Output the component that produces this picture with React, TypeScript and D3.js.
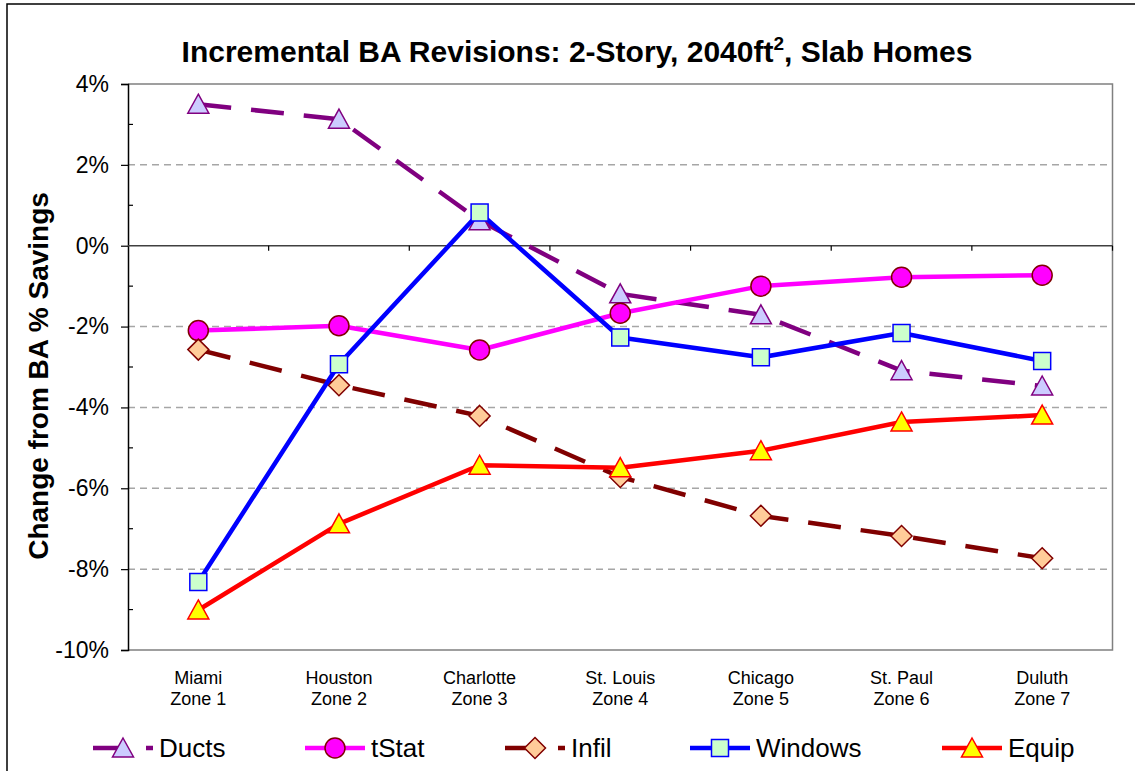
import React, {useEffect, useRef} from 'react';
import * as d3 from 'd3';

const cities = ['Miami', 'Houston', 'Charlotte', 'St. Louis', 'Chicago', 'St. Paul', 'Duluth'];
const zones = ['Zone 1', 'Zone 2', 'Zone 3', 'Zone 4', 'Zone 5', 'Zone 6', 'Zone 7'];

// % change from BA savings
const ducts = [3.50, 3.13, 0.62, -1.19, -1.71, -3.09, -3.47];
const tStat = [-2.10, -1.98, -2.58, -1.67, -1.00, -0.78, -0.73];
const infil = [-2.57, -3.45, -4.21, -5.72, -6.68, -7.18, -7.73];
const windows = [-8.32, -2.93, 0.82, -2.27, -2.76, -2.16, -2.85];
const equip = [-9.01, -6.88, -5.43, -5.49, -5.07, -4.36, -4.19];

const yTicks = [4, 2, 0, -2, -4, -6, -8, -10];

const FONT = "'Liberation Sans', Arial, sans-serif";

type Series = {name: string; values: number[]; line: string; fill: string; stroke: string; marker: string; dash: string | null};

const series: Series[] = [
  {name: 'Ducts', values: ducts, line: '#800080', fill: '#CCCCFF', stroke: '#800080', marker: 'triangle', dash: '33 20'},
  {name: 'tStat', values: tStat, line: '#FF00FF', fill: '#FF00FF', stroke: '#800000', marker: 'circle', dash: null},
  {name: 'Infil', values: infil, line: '#800000', fill: '#FFCC99', stroke: '#800000', marker: 'diamond', dash: '33 20'},
  {name: 'Windows', values: windows, line: '#0000FF', fill: '#CCFFCC', stroke: '#0000FF', marker: 'square', dash: null},
  {name: 'Equip', values: equip, line: '#FF0000', fill: '#FFFF00', stroke: '#FF0000', marker: 'triangle', dash: null},
];

// legend entry left edges
const legendX = [93, 305, 505, 690, 942];

const markerPath = (type: string) => {
  if (type === 'triangle') return 'M0,-10L10.5,9L-10.5,9Z';
  if (type === 'diamond') return 'M0,-10.5L10.5,0L0,10.5L-10.5,0Z';
  if (type === 'square') return 'M-8.5,-8.5H8.5V8.5H-8.5Z';
  return d3.symbol().type(d3.symbolCircle).size(Math.PI * 100)() as string;
};

const App = () => {
  const ref = useRef<SVGSVGElement>(null);
  const width = 1135;
  const height = 771;

  useEffect(() => {
    const svg = d3.select(ref.current);
    svg.selectAll('*').remove();

    const left = 128, right = 1112.5, top = 84, bottom = 650;

    const x = d3.scaleBand().domain(cities).range([left, right]).padding(0);
    const cx = (c: string) => (x(c) as number) + x.bandwidth() / 2;
    const y = d3.scaleLinear().domain([-10, 4]).range([bottom, top]);

    // outer chart border
    svg.append('rect')
      .attr('x', 7).attr('y', 4)
      .attr('width', width).attr('height', height)
      .attr('fill', 'white').attr('stroke', '#000').attr('stroke-width', 1.5);

    // title
    const title = svg.append('text')
      .attr('x', 577).attr('y', 62)
      .attr('text-anchor', 'middle')
      .style('font-family', FONT).style('font-weight', 'bold').style('font-size', '30px');
    title.append('tspan').text('Incremental BA Revisions: 2-Story, 2040ft');
    title.append('tspan').attr('dy', -12).style('font-size', '19px').text('2');
    title.append('tspan').attr('dy', 12).text(', Slab Homes');

    // gridlines
    svg.append('g').selectAll('line')
      .data(yTicks.filter(t => t !== 0 && t !== 4 && t !== -10))
      .enter().append('line')
      .attr('x1', left).attr('x2', right)
      .attr('y1', d => y(d)).attr('y2', d => y(d))
      .attr('stroke', '#A6A6A6').attr('stroke-width', 1.5)
      .attr('stroke-dasharray', '7 5');

    // plot frame
    svg.append('path')
      .attr('d', `M${left},${y(4)}H${right}V${y(-10)}H${left}`)
      .attr('fill', 'none').attr('stroke', '#808080').attr('stroke-width', 1.5);

    // y axis
    const yAxis = svg.append('g').attr('transform', `translate(${left},0)`)
      .call(d3.axisLeft(y).tickValues(yTicks).tickSize(7).tickFormat(d => `${d}%`));
    yAxis.select('.domain').attr('stroke', '#000').attr('stroke-width', 1.5);
    yAxis.selectAll('.tick line').attr('stroke', '#000').attr('stroke-width', 1.2);
    yAxis.selectAll('.tick text')
      .attr('x', -19)
      .style('font-family', FONT).style('font-size', '23px').attr('fill', '#000');

    // minor ticks
    svg.append('g').selectAll('line')
      .data(d3.range(-9, 4, 2))
      .enter().append('line')
      .attr('x1', left).attr('x2', left + 5)
      .attr('y1', d => y(d)).attr('y2', d => y(d))
      .attr('stroke', '#000').attr('stroke-width', 1.2);

    // x axis at zero
    svg.append('line')
      .attr('x1', left).attr('x2', right)
      .attr('y1', y(0)).attr('y2', y(0))
      .attr('stroke', '#404040').attr('stroke-width', 1.5);
    svg.append('g').selectAll('line')
      .data(cities.slice(1).map(c => x(c) as number).concat([right]))
      .enter().append('line')
      .attr('x1', d => d).attr('x2', d => d)
      .attr('y1', y(0)).attr('y2', y(0) + 5)
      .attr('stroke', '#000').attr('stroke-width', 1.2);

    // category labels
    const cat = svg.append('g').selectAll('text')
      .data(cities)
      .enter().append('text')
      .attr('x', d => cx(d))
      .attr('text-anchor', 'middle')
      .style('font-family', FONT).style('font-size', '18px');
    cat.append('tspan').attr('x', d => cx(d)).attr('y', 684).text(d => d);
    cat.append('tspan').attr('x', d => cx(d)).attr('y', 705).text((_, i) => zones[i]);

    // y axis label
    svg.append('text')
      .attr('transform', `translate(48,${(top + bottom) / 2 + 9}) rotate(-90)`)
      .attr('text-anchor', 'middle')
      .style('font-family', FONT).style('font-weight', 'bold').style('font-size', '28px')
      .text('Change from BA % Savings');

    // series
    const line = d3.line<number>()
      .x((_, i) => cx(cities[i]))
      .y(d => y(d));

    series.forEach(s => {
      const g = svg.append('g');
      g.append('path')
        .datum(s.values)
        .attr('d', line)
        .attr('fill', 'none')
        .attr('stroke', s.line)
        .attr('stroke-width', 4.5)
        .attr('stroke-dasharray', s.dash)
        .attr('stroke-linejoin', 'round');
      g.selectAll('path.mk')
        .data(s.values)
        .enter().append('path')
        .attr('class', 'mk')
        .attr('transform', (d, i) => `translate(${cx(cities[i])},${y(d)})`)
        .attr('d', markerPath(s.marker))
        .attr('fill', s.fill)
        .attr('stroke', s.stroke)
        .attr('stroke-width', 1.5);
    });

    // legend
    const legend = svg.append('g');
    series.forEach((s, i) => {
      const lx = legendX[i];
      const ly = 748;
      legend.append('line')
        .attr('x1', lx).attr('x2', lx + 60)
        .attr('y1', ly).attr('y2', ly)
        .attr('stroke', s.line).attr('stroke-width', 4.5)
        .attr('stroke-dasharray', s.dash);
      legend.append('path')
        .attr('transform', `translate(${lx + 30},${ly})`)
        .attr('d', markerPath(s.marker))
        .attr('fill', s.fill).attr('stroke', s.stroke).attr('stroke-width', 1.5);
      legend.append('text')
        .attr('x', lx + 66).attr('y', 757)
        .style('font-family', FONT).style('font-size', '26px')
        .text(s.name);
    });
  }, []);

  return (
    <svg
      ref={ref}
      width={width}
      height={height}
      viewBox={`0 0 ${width} ${height}`}
      style={{position: 'absolute', left: 0, top: 0, background: 'white'}}
    />
  );
};

export default App;
